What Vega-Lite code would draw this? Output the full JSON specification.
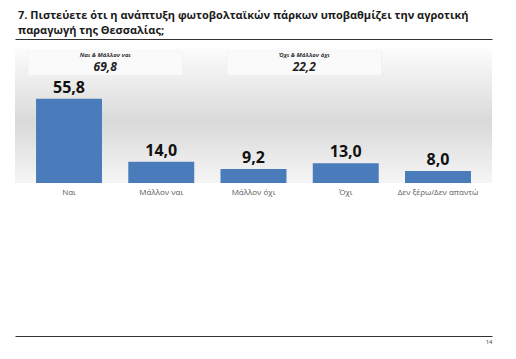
{
  "$schema": "https://vega.github.io/schema/vega-lite/v6.json",
  "width": 477,
  "height": 136,
  "padding": {"left": 15, "top": 10, "right": 24, "bottom": 5},
  "background": "white",
  "config": {
    "locale": {"number": {"decimal": ",", "thousands": ".", "grouping": [3], "currency": ["", " €"]}},
    "view": {"stroke": null, "fill": {"gradient": "linear", "x1": 0, "y1": 0, "x2": 0, "y2": 1, "stops": [{"offset": 0, "color": "#fdfdfd"}, {"offset": 0.55, "color": "#d9d9d9"}, {"offset": 0.85, "color": "#ececec"}, {"offset": 1, "color": "#f5f5f5"}]}},
    "font": "Open Sans"
  },
  "title": {
    "text": ["7. Πιστεύετε ότι η ανάπτυξη φωτοβολταϊκών πάρκων υποβαθμίζει την αγροτική", "παραγωγή της Θεσσαλίας;"],
    "anchor": "start",
    "fontSize": 11,
    "fontWeight": "bold",
    "font": "Open Sans",
    "color": "#1a1a1a",
    "lineHeight": 15,
    "dx": 3,
    "offset": 3
  },
  "datasets": {
    "answers": [
      {"cat": "Ναι", "val": 55.8},
      {"cat": "Μάλλον ναι", "val": 14.0},
      {"cat": "Μάλλον όχι", "val": 9.2},
      {"cat": "Όχι", "val": 13.0},
      {"cat": "Δεν ξέρω/Δεν απαντώ", "val": 8.0}
    ],
    "groups": [
      {"group": "Ναι & Μάλλον ναι", "total": 69.8},
      {"group": "Όχι & Μάλλον όχι", "total": 22.2}
    ]
  },
  "layer": [
    {
      "data": {"name": "answers"},
      "layer": [
        {
          "mark": {"type": "bar", "color": "#4a7bbb"},
          "encoding": {
            "x": {"field": "cat", "type": "nominal", "sort": null, "scale": {"paddingInner": 0.285, "paddingOuter": 0.228},
              "axis": {"orient": "bottom", "offset": 153, "labels": false, "ticks": false, "domain": true, "domainColor": "#333", "domainWidth": 1, "title": "14", "titleAnchor": "end", "titleFontSize": 6, "titleFontWeight": "normal", "titleColor": "#444", "titlePadding": 2}},
            "y": {"field": "val", "type": "quantitative", "scale": {"domain": [0, 87.2]}, "axis": null}
          }
        },
        {
          "mark": {"type": "text", "baseline": "alphabetic", "dy": -6, "fontSize": 16, "fontWeight": "bold", "color": "#111"},
          "encoding": {
            "x": {"field": "cat", "type": "nominal", "sort": null, "axis": {"orient": "top", "offset": 8, "labels": false, "ticks": false, "domain": true, "domainColor": "#333", "title": null}},
            "y": {"field": "val", "type": "quantitative"},
            "text": {"field": "val", "type": "quantitative", "format": ".1f"}
          }
        },
        {
          "mark": {"type": "text", "baseline": "middle", "dy": 10, "fontSize": 8, "color": "#595959"},
          "encoding": {
            "x": {"field": "cat", "type": "nominal", "sort": null, "axis": null},
            "y": {"datum": 0},
            "text": {"field": "cat"}
          }
        }
      ],
      "resolve": {"axis": {"x": "independent"}}
    },
    {
      "data": {"name": "groups"},
      "layer": [
        {
          "mark": {"type": "rect", "fill": "#fbfbfb", "opacity": 0.9, "stroke": "#ececec", "strokeWidth": 0.5},
          "encoding": {
            "x": {"field": "group", "type": "nominal", "sort": null, "axis": null, "scale": {"paddingInner": 0.2236, "paddingOuter": 0.31, "align": 0.105}},
            "y": {"datum": 87.2},
            "y2": {"datum": 71.2}
          }
        },
        {
          "mark": {"type": "text", "fontSize": 6, "fontStyle": "italic", "fontWeight": "bold", "color": "#333", "baseline": "middle"},
          "encoding": {
            "x": {"field": "group", "type": "nominal", "sort": null, "axis": null},
            "y": {"datum": 84.6},
            "text": {"field": "group"}
          }
        },
        {
          "mark": {"type": "text", "fontSize": 12, "fontStyle": "italic", "fontWeight": "bold", "color": "#222", "baseline": "middle"},
          "encoding": {
            "x": {"field": "group", "type": "nominal", "sort": null, "axis": null},
            "y": {"datum": 76.6},
            "text": {"field": "total", "type": "quantitative", "format": ".1f"}
          }
        }
      ]
    }
  ],
  "resolve": {"scale": {"x": "independent"}}
}
